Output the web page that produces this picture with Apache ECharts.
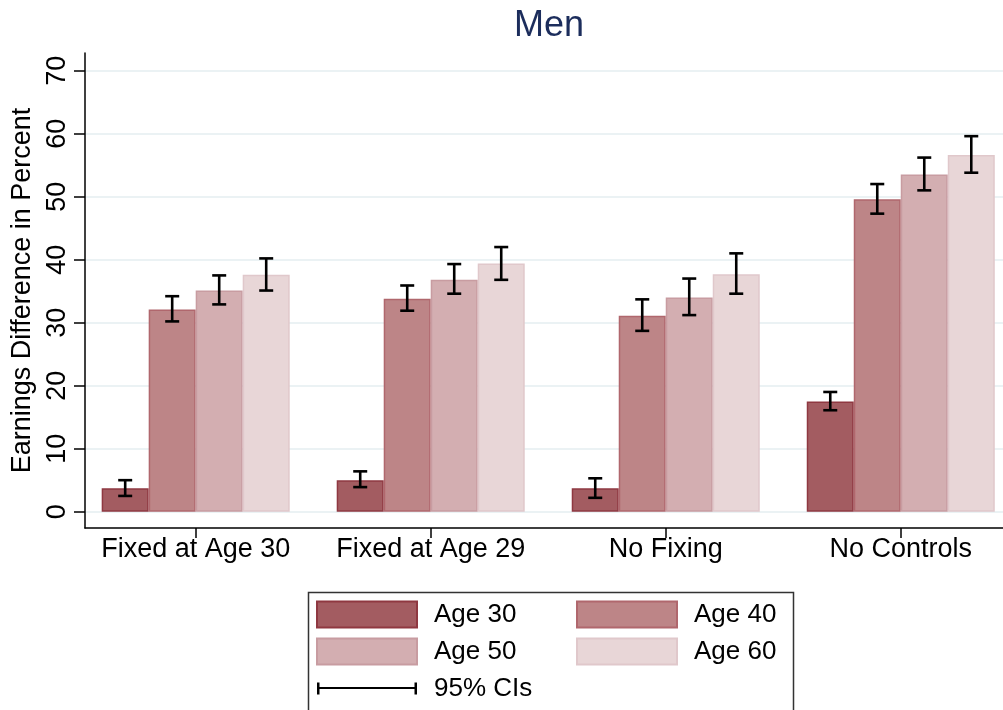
<!DOCTYPE html>
<html><head><meta charset="utf-8">
<script src="https://cdn.jsdelivr.net/npm/echarts@6/dist/echarts.min.js"></script>
<style>html,body{margin:0;padding:0;background:#fff}#c{width:1003px;height:710px}</style>
</head><body><div id="c"></div>
<script>
const categories = ['Fixed at Age 30', 'Fixed at Age 29', 'No Fixing', 'No Controls'];
const seriesNames = ['Age 30', 'Age 40', 'Age 50', 'Age 60'];
const age30 = [3.7, 5.0, 3.7, 17.5];
const age40 = [32.1, 33.8, 31.1, 49.6];
const age50 = [35.1, 36.8, 34.0, 53.5];
const age60 = [37.6, 39.4, 37.7, 56.6];
const age30Lo = [2.5, 3.9, 2.2, 16.1];
const age30Hi = [5.0, 6.4, 5.3, 19.0];
const age40Lo = [30.2, 31.9, 28.7, 47.3];
const age40Hi = [34.2, 35.9, 33.7, 52.0];
const age50Lo = [32.9, 34.6, 31.2, 51.0];
const age50Hi = [37.5, 39.3, 37.0, 56.2];
const age60Lo = [35.1, 36.8, 34.6, 53.8];
const age60Hi = [40.2, 42.0, 41.0, 59.6];
const yTicks = [0, 10, 20, 30, 40, 50, 60, 70];
const ciName = '95% CIs';

const values = [age30, age40, age50, age60];
const los = [age30Lo, age40Lo, age50Lo, age60Lo];
const his = [age30Hi, age40Hi, age50Hi, age60Hi];
const fills = ['#a35c61', '#bd8587', '#d3aeb1', '#e8d6d7'];
const borders = ['#8f3841', '#b0676d', '#c89ca1', '#e0c8cb'];
const FONT = '"Liberation Sans", Arial, Helvetica, sans-serif';
const catIdx = categories.map((c, i) => i);
const barCatGap = 0.2;

const barSeries = seriesNames.map((name, s) => ({
  name: name,
  type: 'bar',
  barGap: '0%',
  barCategoryGap: (barCatGap * 100) + '%',
  data: values[s].map((v, i) => [i, v]),
  itemStyle: { color: fills[s], borderColor: borders[s], borderWidth: 1.5 },
  emphasis: { disabled: true },
  z: 2
}));

const ciData = [];
seriesNames.forEach((n, s) => {
  categories.forEach((c, i) => { ciData.push([i, s, los[s][i], his[s][i]]); });
});

const ciSeries = {
  name: ciName,
  type: 'custom',
  data: ciData,
  encode: { x: 0, y: [2, 3] },
  itemStyle: { color: '#000' },
  z: 5,
  renderItem: function (params, api) {
    const c = api.value(0), s = api.value(1), lo = api.value(2), hi = api.value(3);
    const band = api.size([1, 0])[0];
    const bw = band * (1 - barCatGap) / seriesNames.length;
    const cx = api.coord([c, 0])[0] + (s - (seriesNames.length - 1) / 2) * bw;
    const yLo = api.coord([c, lo])[1];
    const yHi = api.coord([c, hi])[1];
    const cap = 7;
    const st = { stroke: '#000', lineWidth: 2.6 };
    return {
      type: 'group',
      children: [
        { type: 'line', shape: { x1: cx, y1: yLo, x2: cx, y2: yHi }, style: st },
        { type: 'line', shape: { x1: cx - cap, y1: yHi, x2: cx + cap, y2: yHi }, style: st },
        { type: 'line', shape: { x1: cx - cap, y1: yLo, x2: cx + cap, y2: yLo }, style: st }
      ]
    };
  }
};

const chart = echarts.init(document.getElementById('c'), null, { renderer: 'canvas' });
chart.setOption({
  animation: false,
  backgroundColor: '#fff',
  textStyle: { fontFamily: FONT },
  title: {
    text: 'Men', left: 544, top: 3, textAlign: 'center',
    textStyle: { fontFamily: FONT, fontSize: 36, fontWeight: 'normal', color: '#1c2d5c' }
  },
  grid: { left: 85, right: 0, top: 53, bottom: 182, containLabel: false },
  xAxis: {
    type: 'value',
    min: -0.471, max: 3.435,
    axisLine: { show: true, onZero: false, lineStyle: { color: '#000', width: 1.5 } },
    axisTick: { show: true, length: 10, customValues: catIdx, lineStyle: { color: '#000', width: 1.5 } },
    axisLabel: {
      customValues: catIdx, fontSize: 27, color: '#000', margin: 8, fontFamily: FONT,
      formatter: v => categories[Math.round(v)]
    },
    splitLine: { show: false }
  },
  yAxis: {
    type: 'value',
    min: -2.59, max: 72.8,
    name: 'Earnings Difference in Percent',
    nameLocation: 'middle', nameGap: 47,
    nameTextStyle: { fontSize: 27, color: '#000', fontFamily: FONT },
    axisLine: { show: true, onZero: false, lineStyle: { color: '#000', width: 1.5 } },
    axisTick: { show: true, length: 11, customValues: yTicks, lineStyle: { color: '#000', width: 1.5 } },
    axisLabel: { customValues: yTicks, rotate: 90, fontSize: 27, color: '#000', margin: 14, fontFamily: FONT },
    splitLine: { show: true, lineStyle: { color: '#e4eef1', width: 1.6 } }
  },
  legend: {
    left: 306, top: 590, width: 520,
    padding: [6, 10, 10, 10],
    itemGap: 0, itemWidth: 100, itemHeight: 26,
    selectedMode: false,
    textStyle: { fontSize: 26, color: '#000', fontFamily: FONT, lineHeight: 37, width: 142, padding: [0, 0, 0, 12] },
    data: seriesNames.map(n => ({ name: n, icon: 'rect' })).concat([{
      name: ciName,
      icon: 'path://M0,0 M100,26 M0,7h2.5v12h-2.5z M2.5,11.5h95v2h-95z M97.5,7h2.5v12h-2.5z',
      itemStyle: { color: '#000', borderWidth: 0 }
    }])
  },
  graphic: [{
    type: 'rect', left: 306, top: 590,
    shape: { width: 485, height: 140 },
    style: { fill: 'none', stroke: '#333', lineWidth: 1.5 }, silent: true
  }],
  series: barSeries.concat([ciSeries])
});
</script>
</body></html>
